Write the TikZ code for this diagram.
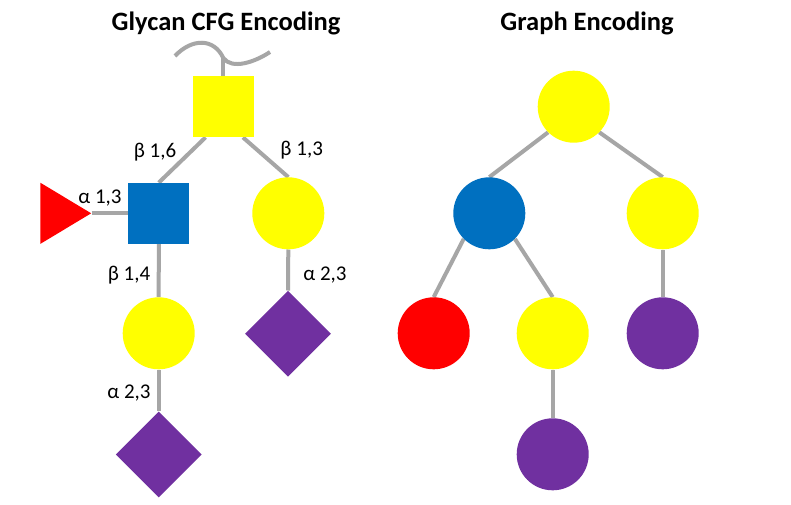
\documentclass[tikz,border=0pt]{standalone}
\usepackage{fontspec}
\setmainfont{Carlito}
\usetikzlibrary{calc,shapes.geometric,backgrounds}
\definecolor{glyyellow}{HTML}{FFFF00}
\definecolor{glyblue}{HTML}{0070C0}
\definecolor{glyred}{HTML}{FF0000}
\definecolor{glypurple}{HTML}{7030A0}
\definecolor{linkgray}{HTML}{A6A6A6}
\tikzset{
  link/.style={draw=linkgray,line width=4pt},
  sqnode/.style={rectangle,minimum size=61pt,inner sep=0pt},
  circnode/.style={circle,minimum size=72pt,inner sep=0pt},
  dianode/.style={diamond,minimum width=86pt,minimum height=86pt,inner sep=0pt},
  trinode/.style={isosceles triangle,isosceles triangle stretches,
                  minimum width=61pt,minimum height=50.7pt,inner sep=0pt},
  lbl/.style={font=\fontsize{21}{25}\selectfont,inner sep=0pt},
  ttl/.style={font=\fontsize{26.5}{31}\selectfont\bfseries}
}
\begin{document}
\begin{tikzpicture}[x=1pt,y=-1pt]
\useasboundingbox (0,0) rectangle (791,505);

\node[ttl] (ttlcfg) at (226,23) {Glycan CFG Encoding};
\node[ttl] (ttlgraph) at (587,23) {Graph Encoding};

% CFG symbols
\node[sqnode,fill=glyyellow] (galnac) at (223.3,106.7) {};
\node[sqnode,fill=glyblue] (glcnac) at (158.8,213.3) {};
\node[circnode,fill=glyyellow] (galr) at (288.3,213.3) {};
\node[circnode,fill=glyyellow] (gall) at (158.7,333.3) {};
\node[dianode,fill=glypurple] (siar) at (288,333.7) {};
\node[dianode,fill=glypurple] (sial) at (158.7,454.5) {};
\node[trinode,fill=glyred,anchor=apex] (fuc) at (91.7,213.3) {};
\coordinate (stemtop) at (223.3,58);

\node[lbl] (l16) at (155,151.7) {β 1,6};
\node[lbl] (l13b) at (301.7,150) {β 1,3};
\node[lbl] (l13a) at (100,198.3) {α 1,3};
\node[lbl] (l14) at (129,275) {β 1,4};
\node[lbl] (l23l) at (129,393.3) {α 2,3};
\node[lbl] (l23r) at (325,275) {α 2,3};

% graph
\node[circnode,fill=glyyellow] (g0) at (573.7,106.7) {};
\node[circnode,fill=glyblue] (g1) at (489.3,213.3) {};
\node[circnode,fill=glyyellow] (g2) at (662.7,213.3) {};
\node[circnode,fill=glyred] (g3) at (433.7,333.3) {};
\node[circnode,fill=glyyellow] (g4) at (552.7,333.3) {};
\node[circnode,fill=glypurple] (g5) at (662.7,333.3) {};
\node[circnode,fill=glypurple] (g6) at (552.7,454.3) {};

\begin{scope}[on background layer]
\fill[white] (0,0) rectangle (791,505);
\draw[link] (175,56) .. controls (192,38) and (214,38) .. (stemtop)
            .. controls (232,70) and (255,62) .. (270,52);
\draw[link] (stemtop) -- (galnac.north);
\draw[link] ($(galnac.south west)!0.21!(galnac.south east)$) -- (glcnac.north);
\draw[link] ($(galnac.south west)!0.82!(galnac.south east)$) -- (galr.north);
\draw[link] (fuc.apex) -- (glcnac.west);
\draw[link] (glcnac.south) -- (gall.north);
\draw[link] (gall.south) -- (sial.north);
\draw[link] (galr.south) -- (siar.north);

\draw[link] (g0.225) -- (g1.north);
\draw[link] (g0.-45) -- (g2.north);
\draw[link] (g1.225) -- (g3.north);
\draw[link] (g1.-45) -- (g4.north);
\draw[link] (g2.south) -- (g5.north);
\draw[link] (g4.south) -- (g6.north);
\end{scope}
\end{tikzpicture}
\end{document}
